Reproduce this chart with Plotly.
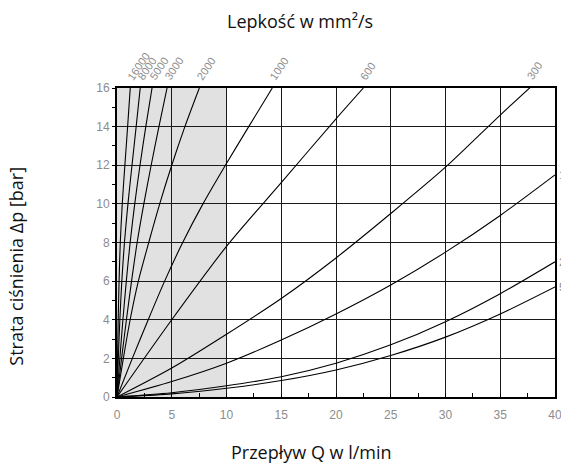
import numpy as np
import plotly.graph_objects as go

# Steep high-viscosity curves: flow Q (l/min) tabulated at fixed pressure-loss levels (bar)
dp_steep = [0, 2, 4, 6, 8, 10, 12, 14, 16]
q_16000 = [0, 0.05, 0.11, 0.19, 0.30, 0.48, 0.72, 0.97, 1.21]
q_8000 = [0, 0.12, 0.26, 0.44, 0.68, 1.00, 1.37, 1.75, 2.12]
q_5000 = [0, 0.26, 0.54, 0.85, 1.20, 1.62, 2.10, 2.63, 3.20]
q_3000 = [0, 0.42, 0.86, 1.33, 1.84, 2.45, 3.12, 3.83, 4.57]
q_2000 = [0, 0.58, 1.20, 1.95, 2.90, 3.90, 5.00, 6.20, 7.52]
q_1000 = [0, 1.40, 2.85, 4.35, 6.00, 7.85, 9.90, 12.03, 14.18]

# 600 mm²/s curve
q_600 = [0, 5, 10, 15, 20, 22.5]
dp_600 = [0, 4.0, 7.8, 11.1, 14.4, 16.0]

# Shallow low-viscosity curves: pressure loss (bar) at fixed flow rates (l/min)
q_flat = [0, 5, 10, 15, 20, 25, 30, 35, 40]
dp_300 = [0, 1.5, 3.25, 5.1, 7.2, 9.5, 11.9, 14.6, 17.2]
dp_150 = [0, 0.8, 1.75, 2.95, 4.3, 5.8, 7.5, 9.4, 11.5]
dp_20 = [0, 0.22, 0.58, 1.05, 1.75, 2.7, 3.9, 5.35, 7.0]
dp_5 = [0, 0.16, 0.45, 0.85, 1.4, 2.15, 3.1, 4.3, 5.7]

top_names = ["16000", "8000", "5000", "3000", "2000", "1000", "600", "300"]
side_names = ["150", "20", "5"]

x_ticks = [0, 5, 10, 15, 20, 25, 30, 35, 40]
y_ticks = [0, 2, 4, 6, 8, 10, 12, 14, 16]
shaded_q = [0, 10]

curves = [
    (q_16000, dp_steep), (q_8000, dp_steep), (q_5000, dp_steep),
    (q_3000, dp_steep), (q_2000, dp_steep), (q_1000, dp_steep),
    (q_600, dp_600), (q_flat, dp_300), (q_flat, dp_150),
    (q_flat, dp_20), (q_flat, dp_5),
]

X_MAX, Y_MAX = x_ticks[-1], y_ticks[-1]
GRAY = "#8c8c8c"
LABEL_FONT = dict(family="Liberation Sans, Arial, sans-serif", size=11, color=GRAY)
TICK_FONT = dict(family="Liberation Sans, Arial, sans-serif", size=12, color=GRAY)
TITLE_FONT = dict(family="Open Sans, Noto Sans, sans-serif", size=18, color="#111")

fig = go.Figure()

for q, dp in curves:
    fig.add_trace(go.Scatter(
        x=q, y=dp, mode="lines",
        line=dict(color="black", width=1.1, shape="spline", smoothing=0.8),
        hoverinfo="skip", showlegend=False,
    ))

# shaded flow band
fig.add_shape(type="rect", xref="x", yref="y",
              x0=shaded_q[0], x1=shaded_q[1], y0=0, y1=Y_MAX,
              fillcolor="#e1e1e1", line=dict(width=0), layer="below")

annotations = []
# viscosity labels where each curve leaves the top edge
for name, (q, dp) in zip(top_names, curves[:8]):
    q_top = float(np.interp(Y_MAX, dp, q))
    annotations.append(dict(
        x=q_top, y=Y_MAX, xref="x", yref="y", text=name, showarrow=False,
        textangle=-56, xanchor="left", yanchor="bottom", xshift=-8, yshift=3,
        font=LABEL_FONT,
    ))
# viscosity labels where the low curves leave the right edge
for name, (q, dp) in zip(side_names, curves[8:]):
    annotations.append(dict(
        x=X_MAX, y=dp[-1], xref="x", yref="y", text=name, showarrow=False,
        xanchor="left", yanchor="middle", xshift=2,
        font=LABEL_FONT,
    ))

annotations += [
    dict(x=0.418, y=1.217, xref="paper", yref="paper", text="Lepkość w mm²/s",
         showarrow=False, xanchor="center", yanchor="middle", font=TITLE_FONT),
    dict(x=0.443, y=-0.178, xref="paper", yref="paper", text="Przepływ Q w l/min",
         showarrow=False, xanchor="center", yanchor="middle", font=TITLE_FONT),
    dict(x=-0.2306, y=0.425, xref="paper", yref="paper", text="Strata ciśnienia Δp [bar]",
         showarrow=False, textangle=-90, xanchor="center", yanchor="middle", font=TITLE_FONT),
]

fig.update_layout(
    width=561, height=466, autosize=False,
    margin=dict(l=117, r=6, t=88, b=69),
    paper_bgcolor="white", plot_bgcolor="white",
    annotations=annotations,
    xaxis=dict(
        range=[0, X_MAX], tickvals=x_ticks, ticktext=[str(v) for v in x_ticks],
        showgrid=True, gridcolor="#1a1a1a", gridwidth=1,
        showline=True, linecolor="black", linewidth=2, mirror=True,
        ticks="", tickfont=TICK_FONT, zeroline=False, automargin=False,
        ticklabelstandoff=6, ticklabeloverflow="allow",
        minor=dict(dtick=2.5, ticks="inside", ticklen=4, tickcolor="black", showgrid=False),
    ),
    yaxis=dict(
        range=[0, Y_MAX], tickvals=y_ticks, ticktext=[str(v) for v in y_ticks],
        showgrid=True, gridcolor="#1a1a1a", gridwidth=1,
        showline=True, linecolor="black", linewidth=2, mirror=True,
        ticks="outside", ticklen=3, tickcolor="black", tickfont=TICK_FONT, zeroline=False,
        automargin=False, ticklabeloverflow="allow",
        minor=dict(dtick=1, ticks="outside", ticklen=3, tickcolor="black", showgrid=False),
    ),
)

fig.write_html("out.html")
